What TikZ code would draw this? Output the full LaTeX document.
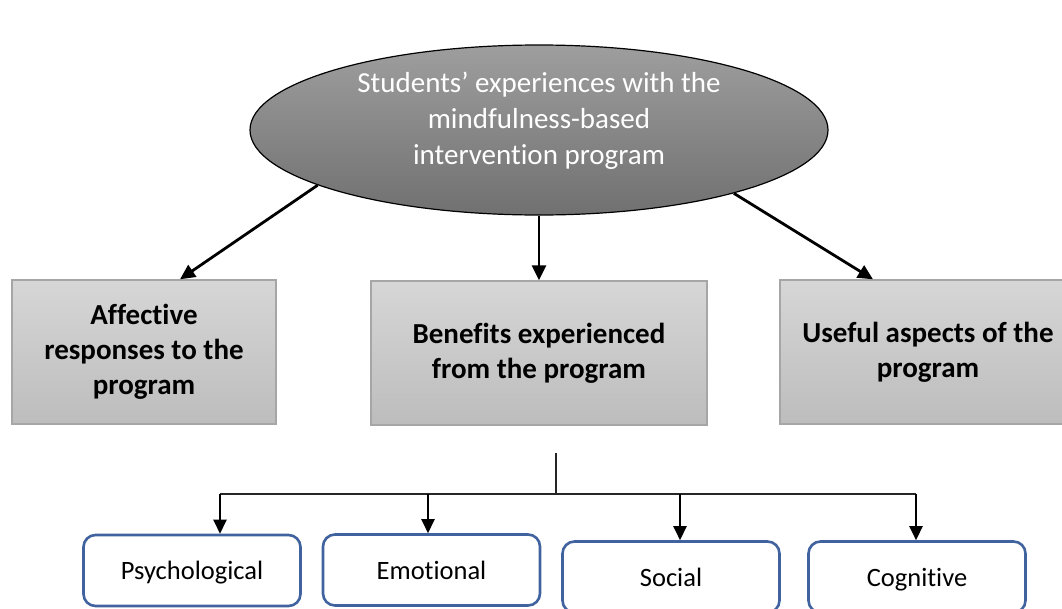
\documentclass[tikz,border=0pt]{standalone}
\usepackage{fontspec}
\setmainfont{Carlito}[Ligatures={NoCommon}]
\usepackage{tikz}
\usetikzlibrary{arrows.meta}
\usetikzlibrary{shapes.geometric}

\definecolor{boxedge}{RGB}{166,166,166}
\definecolor{facetblue}{RGB}{64,98,158}

\begin{document}
\begin{tikzpicture}[x=1pt, y=-1pt,
	>={Triangle[width=14pt,length=15pt]},
    hub/.style = {ellipse, draw=black, line width=1.2pt, inner sep=0pt,
                  minimum width=578pt, minimum height=170pt,
                  top color=black!38, bottom color=black!56},
    theme/.style = {rectangle, draw=boxedge, line width=1.4pt, inner sep=0pt,
                    minimum height=144pt, align=center,
                    font=\fontsize{29}{35}\selectfont\bfseries,
                    top color=black!16, bottom color=black!26},
    facet/.style = {rectangle, rounded corners=12pt, draw=facetblue,
                    line width=2.6pt, fill=white, inner sep=0pt,
                    minimum width=217pt, minimum height=71pt,
                    text height=24pt, text depth=6pt,
                    font=\fontsize{26.5}{30}\selectfont}]
  \clip (0,0) rectangle (1062,608);

  \node (hub) [hub] at (539,130) {};
  \node (hubtext) [align=center, text=white, font=\fontsize{29}{36}\selectfont]
    at (539,121) {Students’ experiences with the\\ mindfulness-based\\ intervention program};

  \node (affect) [theme, minimum width=264pt] at (144,352) {Affective\\ responses to the\\ program};
  \node (benefit) [theme, minimum width=336pt] at (539,353) {Benefits experienced\\ from the program};
  \node (useful) [theme, minimum width=296pt] at (928,352) {Useful aspects of the\\ program};

  \node (psych) [facet] at (192,570.5) {Psychological};
  \node (emot) [facet] at (431.5,570) {Emotional};
  \node (social) [facet] at (671,577) {Social};
  \node (cogn) [facet] at (917,577) {Cognitive};

  \path[->,line width=2.8pt]
    (hub.194) edge ([xshift=36pt]affect.north)
    (hub.south) edge (benefit.north)
    (hub.342) edge ([xshift=-55pt]useful.north);

  % branch line under the benefits box
  \coordinate (stub) at (556,453);
  \coordinate (tapA) at (220,494);
  \coordinate (tapB) at (428,494);
  \coordinate (tapC) at (680,494);
  \coordinate (tapD) at (916,494);
  \draw[line width=1.2pt, black!85] (stub) -- (stub |- tapA);
  \draw[line width=1.2pt, black!85] (tapA) -- (tapD);

  \path[->,line width=2.4pt, >={Triangle[width=13pt,length=14pt]}]
    (tapA) edge (tapA |- psych.north)
    (tapB) edge (tapB |- emot.north)
    (tapC) edge (tapC |- social.north)
    (tapD) edge (tapD |- cogn.north);
\end{tikzpicture}
\end{document}
